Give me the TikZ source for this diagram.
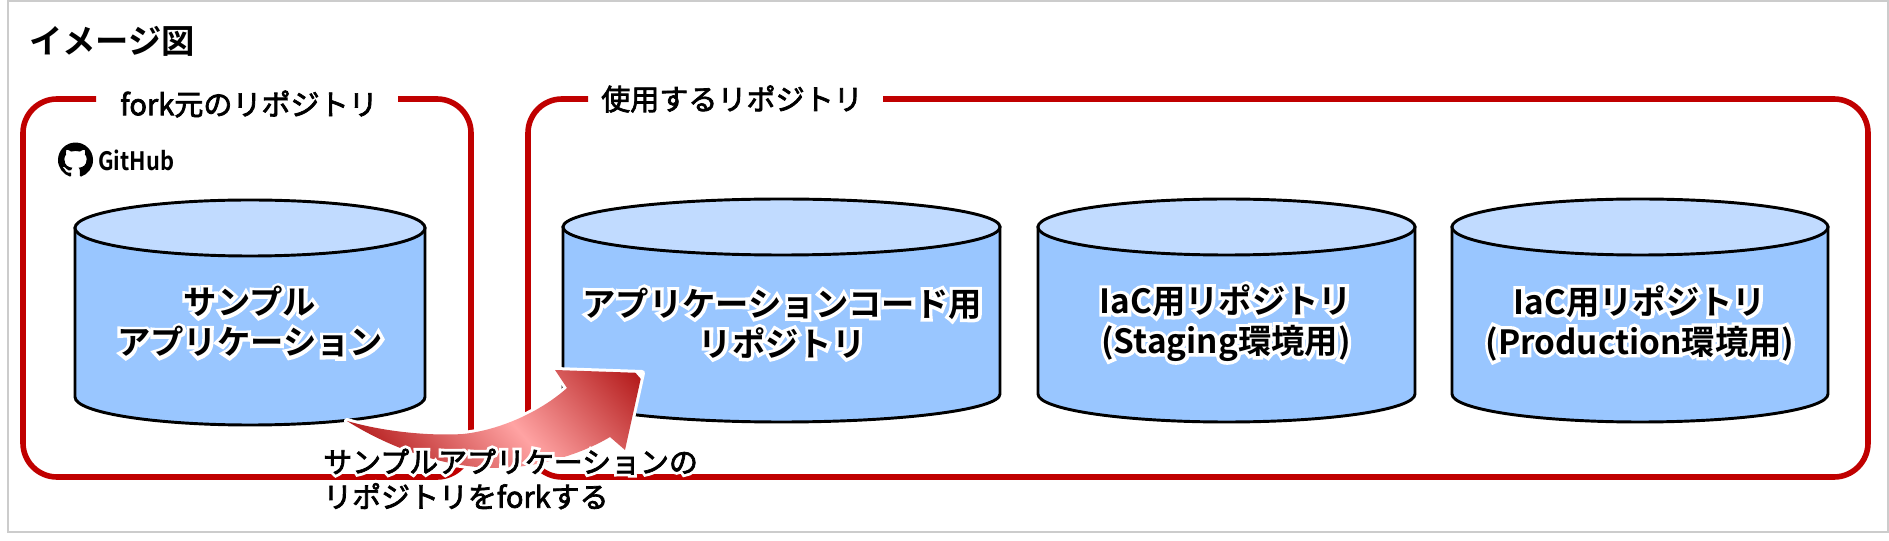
\documentclass[tikz,border=0pt]{standalone}
\usepackage{fontspec}
\usetikzlibrary{svg.path}
\setmainfont{Noto Sans CJK JP}
\newfontfamily\jpbold{Noto Sans CJK JP Bold}
\newfontfamily\jpmed{Noto Sans CJK JP}[FakeBold=2.5]
\newfontfamily\haloB{Noto Sans CJK JP Bold}[FakeBold=20]
\newfontfamily\haloR{Noto Sans CJK JP}[FakeBold=22]
\definecolor{redline}{HTML}{C00000}
\definecolor{cylbody}{HTML}{99C6FF}
\definecolor{cyltop}{HTML}{C1DBFF}
\definecolor{framegray}{HTML}{CCCCCC}
\definecolor{arrowdark}{HTML}{B41C1C}
\definecolor{arrowpink}{HTML}{FFA3A3}
% text with a white halo behind it
\newcommand\glowline[2]{\setbox0=\hbox{#2#1}\makebox[\wd0][c]{\makebox[0pt][c]{\textcolor{white}{\ifx#2\jpbold\haloB\else\haloR\fi #1}}}\hspace{-\wd0}\box0}
\newcommand\cyl[5]{% name, left, right, top-centre y, side height
  \draw[cylline,fill=cylbody] (#2,#4) -- (#2,#4+#5) arc[start angle=180,end angle=0,x radius={(#3-#2)/2},y radius=28] -- (#3,#4) -- cycle;
  \draw[cylline,fill=cyltop] ({(#2+#3)/2},#4) circle[x radius={(#3-#2)/2},y radius=28];
}
\tikzset{
  cylline/.style={draw=black,line width=2.2pt},
  redbox/.style={draw=redline,line width=4.2pt,rounded corners=25.5pt},
  boxlabel/.style={inner sep=0pt,font=\jpmed\fontsize{21.8}{26}\selectfont,text=black},
  cyllabel/.style={inner sep=0pt,align=center,font=\jpbold\fontsize{25}{30}\selectfont,text=black},
}
\begin{document}
\begin{tikzpicture}[x=0.75pt,y=-0.75pt]
\useasboundingbox (0,0) rectangle (1889,541);
\fill[white] (0,0) rectangle (1889,541);
\draw[framegray,line width=2pt] (8,1) rectangle (1888,532);
\node[anchor=west,inner sep=0pt,font=\jpbold\fontsize{25}{30}\selectfont] (title) at (29,41) {イメージ図};
% group outlines
\draw[redbox] (96,99) -- (23,99) -- (23,477) -- (471,477) -- (471,99) -- (398,99);
\draw[redbox] (588,99) -- (528,99) -- (528,477) -- (1868,477) -- (1868,99) -- (883,99);
\node[boxlabel] (forklabel) at (249,104) {fork元のリポジトリ};
\node[boxlabel] (uselabel) at (732,99) {使用するリポジトリ};
% GitHub mark
\begin{scope}[shift={(58,177.5)}]
\fill[black,even odd rule,scale=1.64] svg "M 8 16 C 3.58 16 0 12.42 0 8 c 0 -3.54 2.29 -6.53 5.47 -7.59 c 0.4 -0.07 0.55 0.17 0.55 0.38 c 0 0.19 -0.01 0.82 -0.01 1.49 c -2.01 -0.37 -2.53 0.49 -2.69 0.94 c -0.09 0.23 -0.48 0.94 -0.82 1.13 c -0.28 0.15 -0.68 0.52 -0.01 0.53 c 0.63 0.01 1.08 -0.58 1.23 -0.82 c 0.72 -1.21 1.87 -0.87 2.33 -0.66 c 0.07 0.52 0.28 0.87 0.51 1.07 c -1.78 0.2 -3.64 0.89 -3.64 3.95 c 0 0.87 0.31 1.59 0.82 2.15 c -0.08 0.2 -0.36 1.02 0.08 2.12 c 0 0 0.67 0.21 2.2 -0.82 c 0.64 0.18 1.32 0.27 2 0.27 c 0.68 0 1.36 -0.09 2 -0.27 c 1.53 1.04 2.2 0.82 2.2 0.82 c 0.44 -1.1 0.16 -1.92 0.08 -2.12 c 0.51 -0.56 0.82 -1.27 0.82 -2.15 c 0 -3.07 -1.87 -3.75 -3.65 -3.95 c 0.29 -0.25 0.54 -0.73 0.54 -1.48 c 0 -1.07 -0.01 -1.93 -0.01 -2.2 c 0 -0.21 0.15 -0.46 0.55 -0.38 c 3.18 1.06 5.47 4.05 5.47 7.59 C 16 12.42 12.42 16 8 16 z";
\end{scope}
\node[anchor=west,inner sep=0pt,font=\jpbold\fontsize{19}{20}\selectfont] (github) at (98,160) {\scalebox{0.86}[1]{GitHub}};
% cylinders
\cyl{c1}{75}{425}{228}{169}
\cyl{c2}{563}{1000}{227}{167}
\cyl{c3}{1038}{1415}{227}{167}
\cyl{c4}{1452}{1828}{227}{167}
% fork arrow
\def\arrowshape{(347,421) .. controls (385,432) and (430,436) .. (463,434) .. controls (500,430) and (540,412) .. (567,388) -- (555,370) -- (642,373) -- (625,450) -- (610,437) .. controls (580,455) and (535,468) .. (497,468) .. controls (445,468) and (390,448) .. (347,421) -- cycle}
\draw[white,line width=4.5pt,line join=round,fill=arrowdark] \arrowshape;
\begin{scope}
\clip \arrowshape;
\shade[transform canvas={rotate=41},left color=arrowdark,right color=arrowdark,middle color=arrowpink] (-17,470) rectangle (235,830);
\end{scope}
% labels
\node[cyllabel] (t1) at (250,322) {\glowline{サンプル}{\jpbold}\\\glowline{アプリケーション}{\jpbold}};
\node[cyllabel] (t2) at (782,323) {\glowline{アプリケーションコード用}{\jpbold}\\\glowline{リポジトリ}{\jpbold}};
\node[cyllabel] (t3) at (1226,323) {\glowline{IaC用リポジトリ}{\jpbold}\\\glowline{(Staging環境用)}{\jpbold}};
\node[cyllabel] (t4) at (1640,323) {\glowline{IaC用リポジトリ}{\jpbold}\\\glowline{(Production環境用)}{\jpbold}};
\node[inner sep=0pt,align=left,anchor=west,font=\jpmed\fontsize{21.7}{26.2}\selectfont] (forktext) at (323,479) {\glowline{サンプルアプリケーションの}{\jpmed}\\\glowline{リポジトリをforkする}{\jpmed}};
\end{tikzpicture}
\end{document}
